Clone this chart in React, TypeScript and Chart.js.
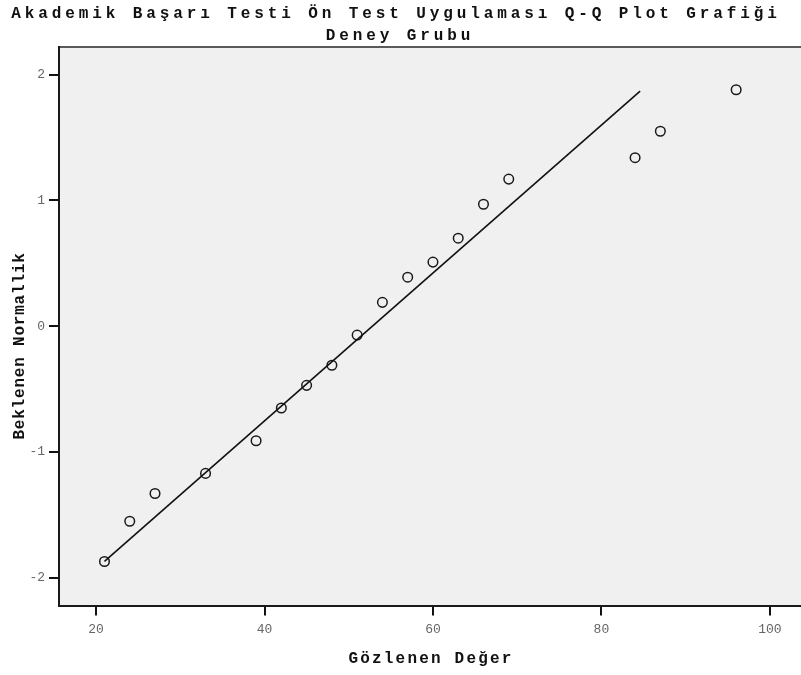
import React, { useEffect, useRef } from "react";
import { Chart, registerables } from "chart.js";

Chart.register(...registerables);

const titleLine1 = "Akademik Başarı Testi Ön Test Uygulaması Q-Q Plot Grafiği";
const titleLine2 = "Deney Grubu";
const xTitle = "Gözlenen Değer";
const yTitle = "Beklenen Normallik";

const observed = [21, 24, 27, 33, 39, 42, 45, 48, 51, 54, 57, 60, 63, 66, 69, 84, 87, 96];
const expected = [-1.87, -1.55, -1.33, -1.17, -0.91, -0.65, -0.47, -0.31, -0.07, 0.19, 0.39, 0.51, 0.70, 0.97, 1.17, 1.34, 1.55, 1.88];

const lineX = [21, 84.6];
const lineY = [-1.87, 1.87];

const xTicks = [20, 40, 60, 80, 100];
const yTicks = [-2, -1, 0, 1, 2];

const FONT = '"Liberation Mono", "DejaVu Sans Mono", monospace';

const decorPlugin = {
  id: "decor",
  beforeDraw(chart: any) {
    const { ctx, chartArea } = chart;
    ctx.save();
    ctx.fillStyle = "#ffffff";
    ctx.fillRect(0, 0, chart.width, chart.height);
    ctx.fillStyle = "#f0f0f0";
    ctx.fillRect(chartArea.left, chartArea.top, chartArea.right - chartArea.left, chartArea.bottom - chartArea.top);
    ctx.strokeStyle = "#5a5a5a";
    ctx.lineWidth = 2;
    ctx.beginPath();
    ctx.moveTo(chartArea.left, chartArea.top);
    ctx.lineTo(chartArea.right, chartArea.top);
    ctx.stroke();
    ctx.restore();
  },
  afterDraw(chart: any) {
    const { ctx, chartArea } = chart;
    ctx.save();
    ctx.fillStyle = "#111111";
    ctx.textAlign = "center";
    ctx.textBaseline = "alphabetic";
    ctx.font = `bold 16px ${FONT}`;
    (ctx as any).letterSpacing = "3.9px";
    ctx.fillText(titleLine1, 396, 18);
    ctx.fillText(titleLine2, 400, 40);
    (ctx as any).letterSpacing = "2.2px";
    ctx.fillText(xTitle, (chartArea.left + chartArea.right) / 2 + 1, 663);
    (ctx as any).letterSpacing = "0.8px";
    ctx.translate(24, 346);
    ctx.rotate(-Math.PI / 2);
    ctx.fillText(yTitle, 0, 0);
    ctx.restore();
  },
};

export default function App() {
  const ref = useRef<HTMLCanvasElement | null>(null);

  useEffect(() => {
    if (!ref.current) return;
    const chart = new Chart(ref.current, {
      type: "scatter",
      data: {
        datasets: [
          {
            type: "line",
            label: "Fit",
            data: lineX.map((x, i) => ({ x, y: lineY[i] })),
            borderColor: "#111111",
            borderWidth: 1.6,
            pointRadius: 0,
            fill: false,
            tension: 0,
          } as any,
          {
            type: "scatter",
            label: "Observed",
            data: observed.map((x, i) => ({ x, y: expected[i] })),
            pointStyle: "circle",
            pointRadius: 4.8,
            pointBorderWidth: 1.5,
            borderColor: "#1a1a1a",
            backgroundColor: "rgba(0,0,0,0)",
            pointBackgroundColor: "rgba(0,0,0,0)",
            pointBorderColor: "#1a1a1a",
          } as any,
        ],
      },
      options: {
        responsive: false,
        devicePixelRatio: 1,
        animation: false,
        events: [],
        layout: { autoPadding: false, padding: { top: 47, left: 0, right: 0, bottom: 0 } },
        plugins: {
          legend: { display: false },
          title: { display: false },
          tooltip: { enabled: false },
        },
        scales: {
          x: {
            type: "linear",
            min: 15.6,
            max: 103.7,
            afterFit: (s: any) => {
              s.height = 69.5;
              s.paddingLeft = 0;
              s.paddingRight = 0;
            },
            afterBuildTicks: (s: any) => {
              s.ticks = xTicks.map((v) => ({ value: v }));
            },
            ticks: {
              color: "#666666",
              font: { family: FONT, size: 13 },
              padding: 6,
              maxRotation: 0,
              autoSkip: false,
            },
            grid: {
              display: true,
              drawOnChartArea: false,
              drawTicks: true,
              tickLength: 10,
              color: "#111111",
              lineWidth: 2,
            },
            border: { display: true, color: "#1a1a1a", width: 2 },
          },
          y: {
            type: "linear",
            min: -2.22,
            max: 2.22,
            afterFit: (s: any) => {
              s.width = 59;
              s.paddingTop = 0;
              s.paddingBottom = 0;
            },
            afterBuildTicks: (s: any) => {
              s.ticks = yTicks.map((v) => ({ value: v }));
            },
            ticks: {
              color: "#666666",
              font: { family: FONT, size: 13 },
              padding: 4,
              autoSkip: false,
            },
            grid: {
              display: true,
              drawOnChartArea: false,
              drawTicks: true,
              tickLength: 10,
              color: "#111111",
              lineWidth: 2,
            },
            border: { display: true, color: "#1a1a1a", width: 2 },
          },
        },
      },
      plugins: [decorPlugin],
    });
    return () => chart.destroy();
  }, []);

  return (
    <canvas
      ref={ref}
      width={801}
      height={675}
      style={{ position: "absolute", left: 0, top: 0, width: 801, height: 675, display: "block" }}
    />
  );
}
